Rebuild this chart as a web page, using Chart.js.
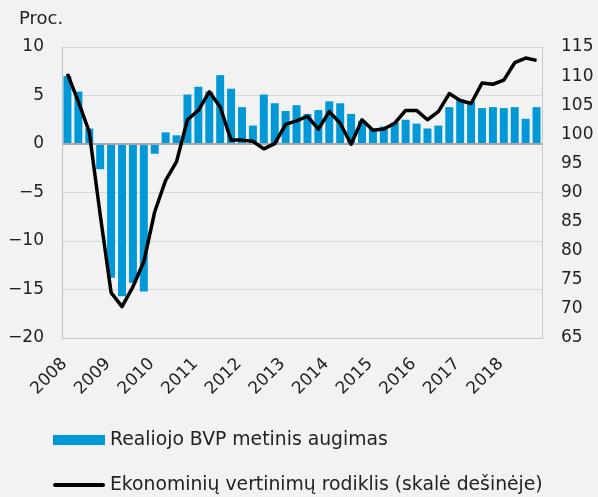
<!DOCTYPE html>
<html lang="lt">
<head>
<meta charset="UTF-8" />
<title>BVP ir ekonominiai vertinimai</title>
<script src="https://cdn.jsdelivr.net/npm/chart.js@4.4.1/dist/chart.umd.min.js"></script>
<style>
    body { margin: 0; background: #f2f2f2; font-family: "DejaVu Sans", sans-serif; color: #222; }
    #wrap { position: relative; width: 598px; height: 497px; }
    #unit { position: absolute; left: 19px; top: 7px; font-size: 18px; }
    .leg { position: absolute; left: 53px; font-size: 18.8px; white-space: nowrap; }
    .leg .sw { display: inline-block; width: 52px; vertical-align: middle; margin-right: 5px; }
</style>
</head>
<body>
<div id="wrap">
    <canvas id="chart" width="598" height="497"></canvas>
    <div id="unit">Proc.</div>
    <div class="leg" style="top:428px"><span class="sw" style="height:10px;background:#0098d6"></span>Realiojo BVP metinis augimas</div>
    <div class="leg" style="top:473px"><span class="sw" style="height:4px;background:#000;border-radius:2px"></span>Ekonominių vertinimų rodiklis (skalė dešinėje)</div>
</div>
<script>
    // metai ir ketvirčiai
    const years = [2008, 2009, 2010, 2011, 2012, 2013, 2014, 2015, 2016, 2017, 2018];
    const quarters = ['I', 'II', 'III', 'IV'];

    // realiojo BVP metinis augimas, proc.
    const gdpGrowth = [
        7.0, 5.4, 1.6, -2.6,
        -13.8, -15.7, -14.3, -15.2,
        -1.0, 1.2, 0.9, 5.1,
        5.9, 5.4, 7.1, 5.7,
        3.8, 1.9, 5.1, 4.2,
        3.4, 4.0, 3.1, 3.5,
        4.4, 4.2, 3.1, 2.4,
        1.6, 1.8, 2.2, 2.5,
        2.1, 1.6, 1.9, 3.8,
        4.6, 4.4, 3.7, 3.8,
        3.7, 3.8, 2.6, 3.8
    ];

    // ekonominių vertinimų rodiklis (dešinė skalė)
    const esi = [
        110.4, 105.6, 100.4, 86.2,
        72.8, 70.4, 73.8, 78.1,
        86.7, 92.1, 95.3, 102.5,
        104.1, 107.3, 104.7, 99.0,
        99.0, 98.8, 97.5, 98.4,
        101.7, 102.3, 103.1, 100.9,
        103.9, 101.9, 98.3, 102.5,
        100.7, 100.9, 101.9, 104.1,
        104.1, 102.5, 103.9, 107.0,
        105.8, 105.3, 108.8, 108.6,
        109.3, 112.3, 113.1, 112.7
    ];

    const leftTicks = [10, 5, 0, -5, -10, -15, -20];
    const rightTicks = [115, 110, 105, 100, 95, 90, 85, 80, 75, 70, 65];

    const labels = [];
    years.forEach(y => quarters.forEach(q => labels.push(y + ' ' + q)));

    const tickFont = { family: 'DejaVu Sans', size: 17 };
    const minus = v => String(v).replace('-', '\u2212');

    new Chart(document.getElementById('chart'), {
        data: {
            labels: labels,
            datasets: [
                {
                    type: 'line',
                    label: 'Ekonominių vertinimų rodiklis (skalė dešinėje)',
                    data: esi,
                    yAxisID: 'y1',
                    borderColor: '#000',
                    borderWidth: 3.5,
                    borderJoinStyle: 'round',
                    pointRadius: 0,
                    tension: 0,
                    order: 0
                },
                {
                    type: 'bar',
                    label: 'Realiojo BVP metinis augimas',
                    data: gdpGrowth,
                    yAxisID: 'y',
                    backgroundColor: '#0098d6',
                    barPercentage: 0.73,
                    categoryPercentage: 1,
                    order: 1
                }
            ]
        },
        options: {
            responsive: false,
            animation: false,
            layout: { padding: { top: 47, bottom: 89, left: 0, right: 0 } },
            plugins: { legend: { display: false }, tooltip: { enabled: false } },
            scales: {
                x: {
                    grid: { display: false, drawTicks: false },
                    border: { display: true, color: '#c8c8c8' },
                    ticks: {
                        autoSkip: false,
                        minRotation: 45,
                        maxRotation: 45,
                        padding: 16,
                        labelOffset: -3,
                        color: '#222',
                        font: tickFont,
                        callback: (v, i) => i % 4 === 0 ? String(years[i / 4]) : ''
                    },
                    afterFit: s => { s.height = 70; }
                },
                y: {
                    position: 'left',
                    min: -20,
                    max: 10,
                    afterBuildTicks: s => { s.ticks = leftTicks.map(v => ({ value: v })); },
                    grid: {
                        drawTicks: false,
                        color: c => c.tick && c.tick.value === 0 ? '#a8a8a8' : '#d9d9d9',
                        lineWidth: c => c.tick && c.tick.value === 0 ? 2 : 1
                    },
                    border: { display: true, color: '#c0c0c0' },
                    ticks: { padding: 18, color: '#222', font: tickFont, callback: v => minus(v) },
                    afterFit: s => { s.width = 62; }
                },
                y1: {
                    position: 'right',
                    min: 65,
                    max: 115,
                    afterBuildTicks: s => { s.ticks = rightTicks.map(v => ({ value: v })); },
                    grid: { display: false, drawTicks: false },
                    border: { display: true, color: '#c8c8c8' },
                    ticks: { padding: 19, color: '#222', font: tickFont },
                    afterFit: s => { s.width = 56; }
                }
            }
        }
    });
</script>
</body>
</html>
